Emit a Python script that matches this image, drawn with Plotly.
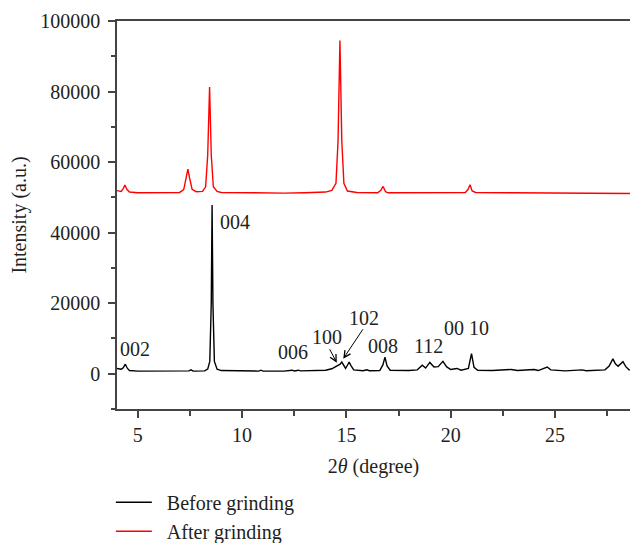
import plotly.graph_objects as go

# XRD pattern before grinding: 2-theta (deg) and intensity (a.u.)
before_2theta = [4.0, 4.2, 4.3, 4.4, 4.5, 4.6, 5.0, 6.0, 7.0, 7.45, 7.55, 7.65, 8.2, 8.35, 8.45,
                 8.52, 8.56, 8.6, 8.67, 8.8, 9.0, 10.0, 10.8, 10.9, 11.0, 12.0, 12.4, 12.5, 12.7,
                 12.8, 13.5, 14.0, 14.3, 14.55, 14.7, 14.78, 14.87, 14.96, 15.05, 15.13, 15.22,
                 15.35, 15.8, 15.98, 16.1, 16.6, 16.75, 16.85, 16.95, 17.1, 18.0, 18.4, 18.64,
                 18.8, 19.0, 19.2, 19.4, 19.63, 19.8, 20.0, 20.3, 20.5, 20.85, 21.0, 21.12, 21.3,
                 22.0, 22.9, 23.2, 24.0, 24.2, 24.63, 24.8, 25.5, 26.3, 26.5, 27.4, 27.6, 27.78,
                 27.9, 28.03, 28.15, 28.26, 28.4, 28.55, 28.7]
before_int = [1500, 1300, 1700, 2700, 1500, 900, 750, 700, 700, 800, 1100, 750, 800, 1300, 3500,
              20000, 47800, 20000, 3500, 1300, 900, 750, 750, 1000, 750, 750, 1000, 800, 1000,
              800, 800, 1000, 1400, 2200, 2700, 3300, 2200, 1500, 2400, 3300, 2300,
              1100, 850, 1100, 850, 900, 2500, 4700, 2200, 1000, 900, 1100, 2400,
              1600, 3200, 1900, 2000, 3500, 2000, 1200, 1500, 1000, 1500, 5700, 1800, 1000,
              900, 1200, 900, 1200, 900, 1900, 1100, 800, 1100, 850, 1100, 2200, 4200,
              2800, 2100, 2800, 3400, 2000, 1100, 1050]

# XRD pattern after grinding
after_2theta = [4.0, 4.2, 4.3, 4.38, 4.48, 4.6, 5.0, 6.0, 7.0, 7.2, 7.32, 7.40, 7.48, 7.6, 7.8,
                8.1, 8.25, 8.35, 8.44, 8.52, 8.62, 8.8, 9.0, 10.0, 12.0, 13.0, 14.0, 14.3, 14.5,
                14.6, 14.69, 14.78, 14.88, 15.05, 15.5, 16.5, 16.65, 16.76, 16.88, 17.0, 19.0,
                20.7, 20.83, 20.93, 21.03, 21.2, 23.0, 25.0, 27.0, 28.6]
after_int = [51900, 51700, 52500, 53500, 52200, 51500, 51300, 51300, 51400, 52200, 55500, 58000,
             55500, 52300, 51600, 51700, 53000, 62000, 81300, 62000, 53000, 51700, 51400, 51300,
             51200, 51300, 51500, 52000, 54000, 66000, 94500, 66000, 54000, 51800, 51400, 51300,
             52000, 53100, 51600, 51300, 51300, 51400, 52200, 53600, 51800, 51400, 51300, 51300,
             51200, 51100]

# Reflection labels (hkl) and where they sit
hkl_labels = ["002", "004", "006", "100", "102", "008", "112", "00 10"]
hkl_x = [4.88, 9.65, 12.43, 14.09, 15.84, 16.75, 18.96, 20.76]
hkl_y = [7080, 43060, 6230, 10480, 15860, 7930, 7930, 13030]

# Pointer arrows for the overlapping 100/102 reflections: tail -> head
arrow_tail_x = [14.16, 15.84]
arrow_tail_y = [7370, 13030]
arrow_head_x = [14.54, 14.85]
arrow_head_y = [3120, 4250]

FONT = "Liberation Serif"
TXT = "#231f20"
AX = "#444444"

fig = go.Figure()
fig.add_trace(go.Scatter(x=before_2theta, y=before_int, mode="lines", name="\u2002Before grinding",
                         line=dict(color="#000000", width=1.4)))
fig.add_trace(go.Scatter(x=after_2theta, y=after_int, mode="lines", name="\u2002After grinding",
                         line=dict(color="#ff0000", width=1.4)))

for lab, lx, ly in zip(hkl_labels, hkl_x, hkl_y):
    fig.add_annotation(x=lx, y=ly, text=lab, showarrow=False,
                       font=dict(family=FONT, size=20, color=TXT))

for tx, ty, hx, hy in zip(arrow_tail_x, arrow_tail_y, arrow_head_x, arrow_head_y):
    fig.add_annotation(x=hx, y=hy, ax=tx, ay=ty, axref="x", ayref="y", text="",
                       showarrow=True, arrowhead=5, arrowsize=1.3, arrowwidth=1,
                       arrowcolor="#000000")

axis_common = dict(showgrid=False, zeroline=False, showline=True, linecolor=AX,
                   linewidth=1.5, ticks="outside", tickcolor=AX, tickwidth=1.5,
                   ticklen=7, tickfont=dict(family=FONT, size=20, color=TXT))

fig.update_layout(
    width=637, height=543,
    margin=dict(l=117, r=7, t=21, b=134, autoexpand=False),
    paper_bgcolor="white", plot_bgcolor="white",
    font=dict(family=FONT, size=20, color=TXT),
    xaxis=dict(range=[4, 28.6], tick0=0, dtick=5, mirror=True,
               minor=dict(dtick=2.5, tick0=0, ticks="outside", ticklen=5,
                          tickcolor=AX, tickwidth=1.5),
               title=dict(text="2<i>θ</i> (degree)", font=dict(family=FONT, size=20, color=TXT),
                          standoff=14),
               **axis_common),
    yaxis=dict(range=[-10000, 100000], tick0=0, dtick=20000, tickformat="d",
               ticklabelstandoff=4,
               minor=dict(dtick=10000, tick0=0, ticks="outside", ticklen=4,
                          tickcolor=AX, tickwidth=1.5),
               title=dict(text="Intensity (a.u.)", font=dict(family=FONT, size=20, color=TXT),
                          standoff=8),
               **axis_common),
    legend=dict(x=-0.012, y=-0.19, xanchor="left", yanchor="top", orientation="v",
                font=dict(family=FONT, size=20, color=TXT), bgcolor="rgba(0,0,0,0)",
                itemwidth=36, tracegroupgap=0),
    showlegend=True,
)

fig.write_html("out.html")
